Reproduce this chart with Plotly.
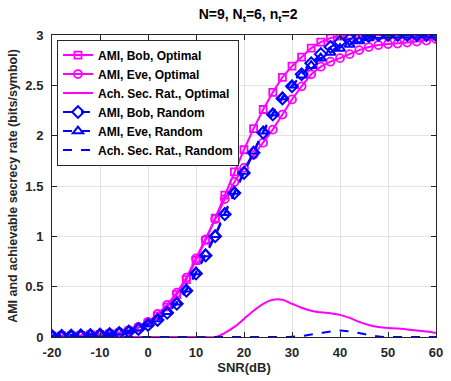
import plotly.graph_objects as go

snr = list(range(-20, 61, 2))

bob_opt = [0.01, 0.01, 0.012, 0.015, 0.02, 0.025, 0.03, 0.04, 0.06, 0.09, 0.14, 0.21, 0.30, 0.42, 0.57,
           0.76, 0.96, 1.18, 1.41, 1.64, 1.86, 2.07, 2.26, 2.43, 2.58, 2.69, 2.78, 2.87, 2.93, 2.97,
           2.99, 3.0, 3.0, 3.0, 3.0, 3.0, 3.0, 3.0, 3.0, 3.0, 3.0]
eve_opt = [0.012, 0.012, 0.014, 0.017, 0.022, 0.028, 0.034, 0.045, 0.066, 0.10, 0.15, 0.23, 0.32, 0.44, 0.59,
           0.78, 0.97, 1.17, 1.37, 1.54, 1.68, 1.81, 1.93, 2.06, 2.21, 2.36, 2.49, 2.61, 2.685, 2.735,
           2.77, 2.81, 2.85, 2.88, 2.90, 2.91, 2.915, 2.925, 2.935, 2.945, 2.96]
sec_opt = [0, 0, 0, 0, 0, 0, 0, 0, 0, 0, 0, 0, 0, 0, 0,
           0, 0, 0, 0.04, 0.10, 0.18, 0.26, 0.33, 0.37, 0.37, 0.33, 0.29, 0.26, 0.245, 0.235,
           0.22, 0.19, 0.15, 0.12, 0.10, 0.09, 0.085, 0.075, 0.065, 0.055, 0.04]

bob_rnd = [0.01, 0.012, 0.014, 0.017, 0.02, 0.025, 0.03, 0.04, 0.055, 0.08, 0.12, 0.17, 0.24, 0.33, 0.46,
           0.63, 0.81, 1.0, 1.22, 1.43, 1.63, 1.83, 2.03, 2.21, 2.37, 2.49, 2.61, 2.72, 2.81, 2.88,
           2.93, 2.96, 2.98, 2.99, 3.0, 3.0, 3.0, 3.0, 3.0, 3.0, 3.0]
eve_rnd = [0.015, 0.017, 0.019, 0.022, 0.026, 0.031, 0.037, 0.047, 0.063, 0.09, 0.13, 0.18, 0.25, 0.345, 0.475,
           0.645, 0.825, 1.015, 1.235, 1.445, 1.645, 1.845, 2.045, 2.225, 2.385, 2.50, 2.60, 2.695, 2.77, 2.825,
           2.865, 2.905, 2.94, 2.97, 2.995, 3.0, 3.0, 3.0, 3.0, 3.0, 3.0]
sec_rnd = [0, 0, 0, 0, 0, 0, 0, 0, 0, 0, 0, 0, 0, 0, 0,
           0, 0, 0, 0, 0, 0, 0, 0, 0, 0, 0.003, 0.01, 0.025, 0.04, 0.055,
           0.065, 0.055, 0.04, 0.02, 0.005, 0, 0, 0, 0, 0, 0]

MAG = "#FF00FF"
BLU = "#0000FF"

fig = go.Figure()
fig.add_trace(go.Scatter(x=snr, y=bob_opt, mode="lines+markers", name="<b>AMI, Bob, Optimal</b>",
                         line=dict(color=MAG, width=2),
                         marker=dict(symbol="square-open", size=7, color=MAG, line=dict(width=1.8))))
fig.add_trace(go.Scatter(x=snr, y=eve_opt, mode="lines+markers", name="<b>AMI, Eve, Optimal</b>",
                         line=dict(color=MAG, width=2),
                         marker=dict(symbol="circle-open", size=8, color=MAG, line=dict(width=1.8))))
fig.add_trace(go.Scatter(x=snr, y=sec_opt, mode="lines", name="<b>Ach. Sec. Rat., Optimal</b>",
                         line=dict(color=MAG, width=2, shape="spline")))
fig.add_trace(go.Scatter(x=snr, y=bob_rnd, mode="lines+markers", name="<b>AMI, Bob, Random</b>",
                         line=dict(color=BLU, width=2, dash="dash"),
                         marker=dict(symbol="diamond-open", size=9, color=BLU, line=dict(width=2))))
fig.add_trace(go.Scatter(x=snr, y=eve_rnd, mode="lines+markers", name="<b>AMI, Eve, Random</b>",
                         line=dict(color=BLU, width=2, dash="dash"),
                         marker=dict(symbol="triangle-up-open", size=9, color=BLU, line=dict(width=2))))
fig.add_trace(go.Scatter(x=snr, y=sec_rnd, mode="lines", name="<b>Ach. Sec. Rat., Random</b>",
                         line=dict(color=BLU, width=2, dash="dash", shape="spline")))

font_fam = "Liberation Sans, Arial, sans-serif"
fig.update_layout(
    width=451, height=381,
    margin=dict(l=52, r=8, t=35, b=41),
    paper_bgcolor="white", plot_bgcolor="white",
    font=dict(family=font_fam, size=13, color="#262626"),
    title=dict(text="<b>N=9, N<sub>t</sub>=6, n<sub>t</sub>=2</b>", x=0.55, xanchor="center",
               y=0.963, yanchor="middle", font=dict(size=14, color="black")),
    showlegend=True,
    legend=dict(x=0.013, y=0.985, xanchor="left", yanchor="top",
                bgcolor="white", bordercolor="#262626", borderwidth=1,
                font=dict(size=12, color="black", family=font_fam),
                tracegroupgap=0, itemwidth=30),
)
xt = [-20, -10, 0, 10, 20, 30, 40, 50, 60]
fig.update_xaxes(range=[-20, 60], tickvals=xt,
                 ticktext=["<b>%d</b>" % v for v in xt],
                 showgrid=True, gridcolor="#e3e3e3", gridwidth=1,
                 showline=True, linecolor="#262626", linewidth=1, mirror="allticks",
                 ticks="inside", ticklen=5, tickcolor="#262626", zeroline=False,
                 ticklabelstandoff=3,
                 title=dict(text="<b>SNR(dB)</b>", font=dict(size=13), standoff=4))
yt = [0, 0.5, 1, 1.5, 2, 2.5, 3]
fig.update_yaxes(range=[0, 3], tickvals=yt,
                 ticktext=["<b>%s</b>" % ("%g" % v) for v in yt],
                 showgrid=True, gridcolor="#e3e3e3", gridwidth=1,
                 showline=True, linecolor="#262626", linewidth=1, mirror="allticks",
                 ticks="inside", ticklen=5, tickcolor="#262626", zeroline=False,
                 ticklabelstandoff=5,
                 title=dict(text="<b>AMI and achievable secrecy rate (bits/symbol)</b>", font=dict(size=12.5), standoff=4))

fig.write_html("out.html")
